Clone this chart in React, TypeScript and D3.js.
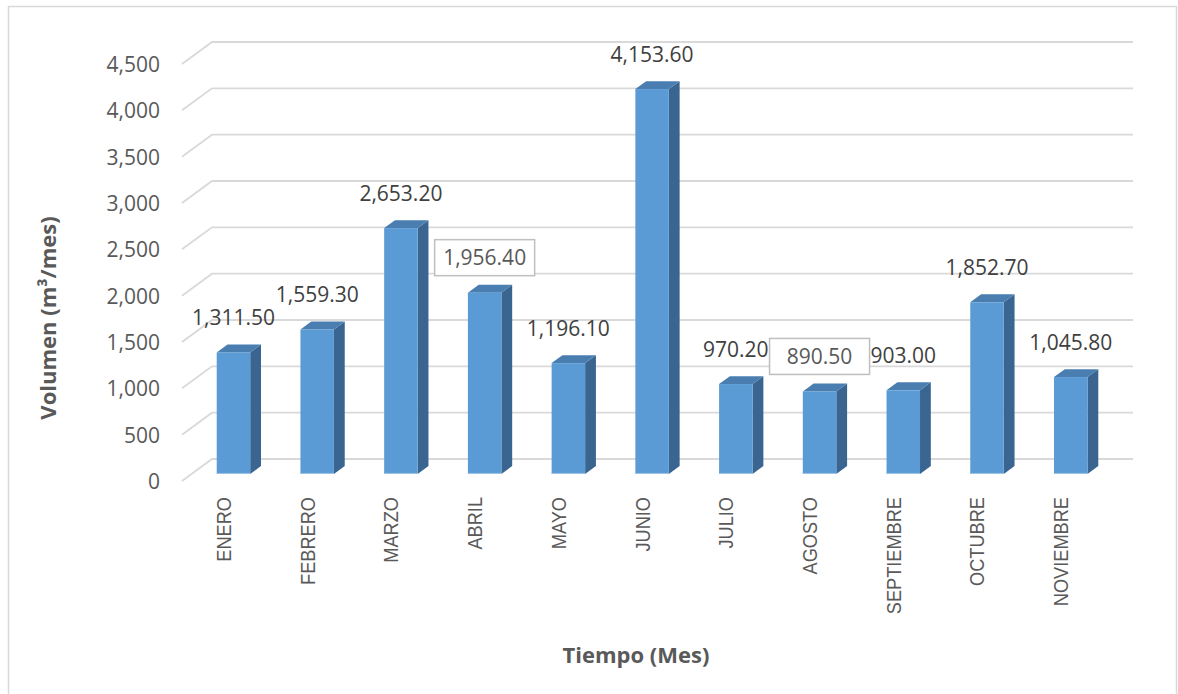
import React from "react";
import * as d3 from "d3";

const months = [
  "ENERO",
  "FEBRERO",
  "MARZO",
  "ABRIL",
  "MAYO",
  "JUNIO",
  "JULIO",
  "AGOSTO",
  "SEPTIEMBRE",
  "OCTUBRE",
  "NOVIEMBRE",
];
const volumes = [1311.5, 1559.3, 2653.2, 1956.4, 1196.1, 4153.6, 970.2, 890.5, 903.0, 1852.7, 1045.8];
const boxedLabels = ["ABRIL", "AGOSTO"];
const yTicks = [0, 500, 1000, 1500, 2000, 2500, 3000, 3500, 4000, 4500];

const W = 1178;
const H = 694;

// depth offset of the 3d box (front -> back wall)
const DX = 30;
const DY = -22;
// bar sits between these depths
const D0 = 0.32;
const D1 = 0.68;

const colors = { front: "#5b9bd5", top: "#4a7eb1", side: "#3a6591", grid: "#d9d9d9", text: "#595959" };

export default function App() {
  const x = d3.scaleBand<string>().domain(months).range([182, 1103]).paddingInner(0.6).paddingOuter(0.3);
  const y = d3.scaleLinear().domain([0, 4500]).range([481, 64]);
  const fmt = d3.format(",.2f");
  const fmtTick = d3.format(",");
  const bw = x.bandwidth();

  return (
    <svg width={W} height={H} style={{ position: "absolute", left: 0, top: 0 }} fontFamily="'Open Sans', sans-serif">
      <rect x={8.5} y={6.5} width={1168} height={700} fill="#fff" stroke="#d9d9d9" strokeWidth={1.5} />

      {/* gridlines: side wall diagonal + back wall */}
      {yTicks.map((t) => (
        <g key={t}>
          <polyline
            points={`182,${y(t)} ${182 + DX},${y(t) + DY} 1133,${y(t) + DY}`}
            fill="none"
            stroke={colors.grid}
            strokeWidth={1.8}
          />
          <text x={160} y={y(t) + 8} textAnchor="end" fontSize={21} fill={colors.text}>
            {fmtTick(t)}
          </text>
        </g>
      ))}

      {/* bars */}
      {months.map((m, i) => {
        const v = volumes[i];
        const x0 = (x(m) as number) + DX * D0;
        const yb = y(0) + DY * D0;
        const yt = y(v) + DY * D0;
        const ddx = DX * (D1 - D0);
        const ddy = DY * (D1 - D0);
        return (
          <g key={m}>
            <polygon
              points={`${x0 + bw},${yt} ${x0 + bw + ddx},${yt + ddy} ${x0 + bw + ddx},${yb + ddy} ${x0 + bw},${yb}`}
              fill={colors.side}
            />
            <polygon
              points={`${x0},${yt} ${x0 + ddx},${yt + ddy} ${x0 + bw + ddx},${yt + ddy} ${x0 + bw},${yt}`}
              fill={colors.top}
            />
            <rect x={x0} y={yt} width={bw} height={yb - yt} fill={colors.front} />
            <line x1={x0} x2={x0 + bw} y1={yb - 0.5} y2={yb - 0.5} stroke="#9dc3e6" strokeWidth={1} />
          </g>
        );
      })}

      {/* data labels */}
      {months.map((m, i) => {
        const v = volumes[i];
        const cx = (x(m) as number) + DX * D0 + bw / 2;
        const cy = y(v) + DY * D0 - 35;
        const boxed = boxedLabels.includes(m);
        return (
          <g key={m}>
            {boxed && (
              <rect x={cx - 50} y={cy - 18} width={100} height={36} fill="#fff" stroke="#bfbfbf" strokeWidth={1.5} />
            )}
            <text x={cx} y={cy + 7.5} textAnchor="middle" fontSize={21} fill={boxed ? "#595959" : "#404040"}>
              {fmt(v)}
            </text>
          </g>
        );
      })}

      {/* category labels */}
      {months.map((m) => {
        const cx = (x(m) as number) + bw / 2;
        return (
          <text
            key={m}
            transform={`translate(${cx + 7},497) rotate(-90) scale(0.91,1)`}
            textAnchor="end"
            fontSize={20}
            fontFamily="'Liberation Sans', Arial, sans-serif"
            fill={colors.text}
          >
            {m}
          </text>
        );
      })}

      <text
        transform="translate(56,318) rotate(-90)"
        textAnchor="middle"
        fontSize={22}
        fontWeight="bold"
        fill={colors.text}
      >
        Volumen  (m³/mes)
      </text>
      <text x={636} y={663} textAnchor="middle" fontSize={22} fontWeight="bold" fill={colors.text}>
        Tiempo (Mes)
      </text>
    </svg>
  );
}
